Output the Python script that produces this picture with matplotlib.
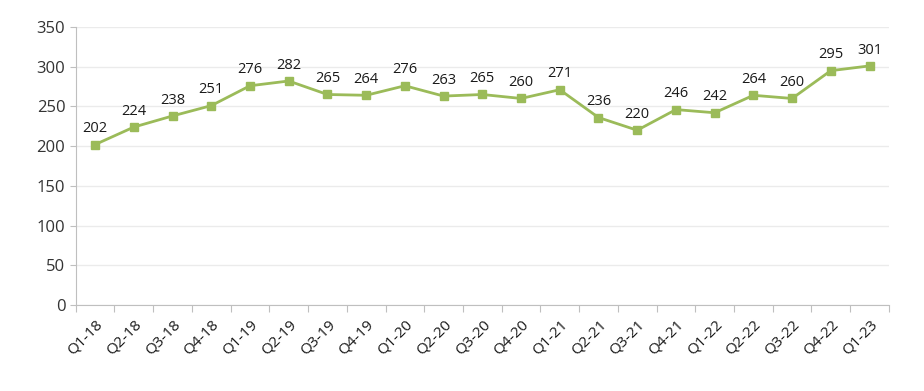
import matplotlib.pyplot as plt
import numpy as np

quarters = ["Q1-18", "Q2-18", "Q3-18", "Q4-18", "Q1-19", "Q2-19", "Q3-19", "Q4-19",
            "Q1-20", "Q2-20", "Q3-20", "Q4-20", "Q1-21", "Q2-21", "Q3-21", "Q4-21",
            "Q1-22", "Q2-22", "Q3-22", "Q4-22", "Q1-23"]
values = [202, 224, 238, 251, 276, 282, 265, 264, 276, 263, 265, 260, 271, 236,
          220, 246, 242, 264, 260, 295, 301]

plt.rcParams['font.family'] = ['Open Sans', 'DejaVu Sans']

fig = plt.figure(figsize=(9.24, 3.91), dpi=100)
ax = fig.add_axes([0.082, 0.22, 0.88, 0.711])

x = np.arange(len(quarters))
ax.plot(x, values, color='#9bbb59', linewidth=2, marker='s', markersize=5.5,
        markerfacecolor='#9bbb59', markeredgecolor='#9bbb59')

for xi, v in zip(x, values):
    ax.annotate(str(v), (xi, v), xytext=(0, 6), textcoords='offset points',
                ha='center', va='bottom', fontsize=10.5, color='#1a1a1a')

ax.set_xlim(-0.5, len(quarters) - 0.5)
ax.set_ylim(0, 350)
ax.set_yticks(range(0, 351, 50))
ax.tick_params(axis='y', labelsize=12, labelcolor='#333333', length=4, color='#bfbfbf')
ax.yaxis.grid(True, color='#ebebeb', linewidth=1)
ax.set_axisbelow(True)

# category ticks between points, labels at the points
ax.set_xticks(np.arange(-0.5, len(quarters)), minor=False)
ax.set_xticklabels([])
ax.set_xticks(x, minor=True)
ax.set_xticklabels(quarters, minor=True, rotation=45, ha='right',
                   rotation_mode='anchor', fontsize=11, color='#1a1a1a')
ax.tick_params(axis='x', which='major', length=5, color='#bfbfbf')
ax.tick_params(axis='x', which='minor', length=0, pad=9)

for s in ['top', 'right']:
    ax.spines[s].set_visible(False)
ax.spines['left'].set_color('#bfbfbf')
ax.spines['bottom'].set_color('#bfbfbf')

fig.savefig('out.png', dpi=100)
